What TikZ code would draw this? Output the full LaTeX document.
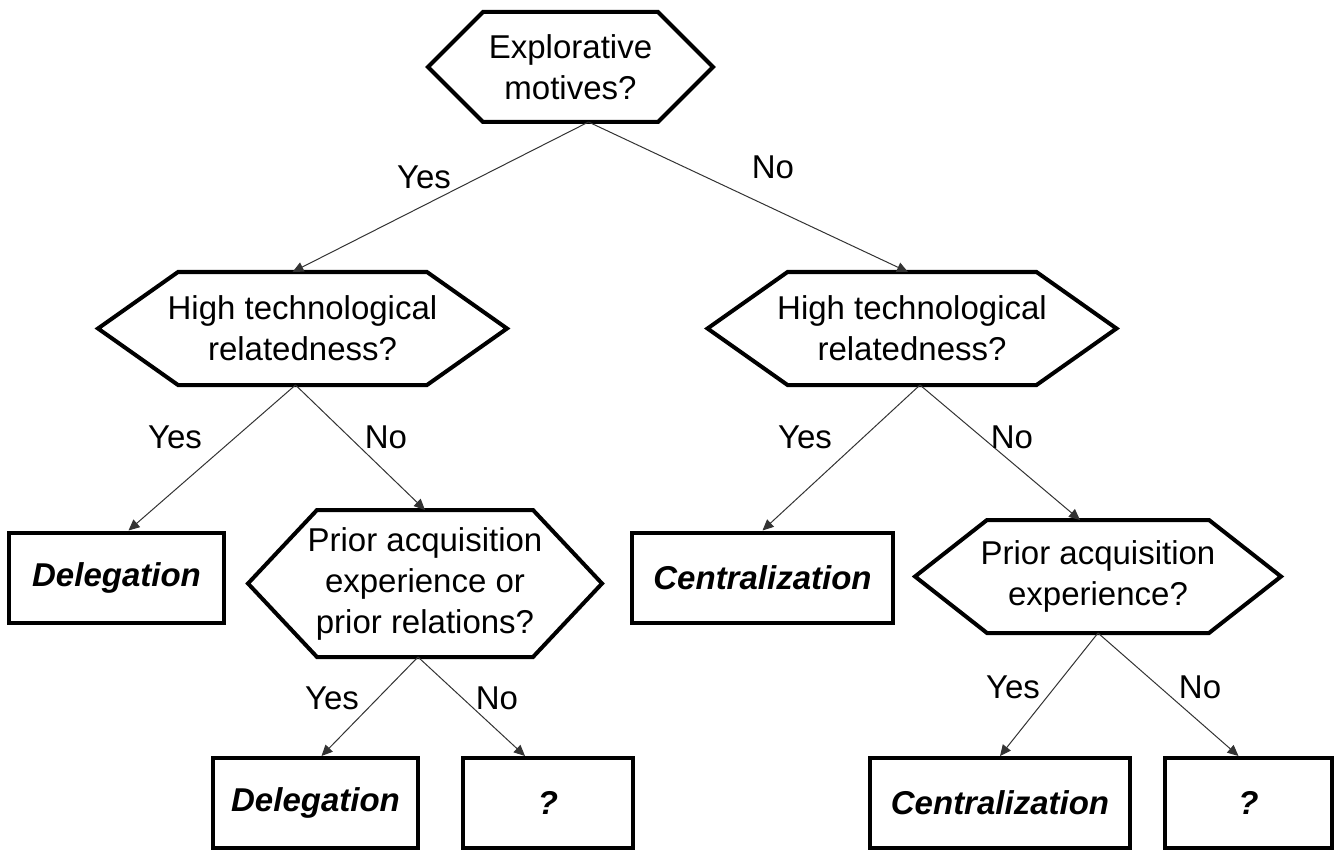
\documentclass[tikz,border=0pt]{standalone}
\usepackage{fontspec}
\setmainfont{Liberation Sans}
\usetikzlibrary{arrows.meta}

\tikzset{
  qnode/.style={inner sep=0pt, outer sep=0pt, align=center, font=\fontsize{33}{41}\selectfont},
  leaf/.style={draw, line width=4pt, inner sep=0pt, minimum height=90pt, align=center, font=\fontsize{33}{41}\selectfont\bfseries\itshape},
  hexline/.style={line width=4pt, line join=miter},
  conn/.style={line width=1pt, black!80, -{Triangle[length=11pt,width=10pt]}},
  lbl/.style={font=\fontsize{33}{41}\selectfont}
}

% outline of a question node: pointed at both sides
\newcommand{\hexframe}[2]{%
  \draw[hexline] (#1.west) -- ([xshift=#2]#1.north west) -- ([xshift=-#2]#1.north east)
    -- (#1.east) -- ([xshift=-#2]#1.south east) -- ([xshift=#2]#1.south west) -- cycle;}

\begin{document}
\begin{tikzpicture}[x=1pt,y=-1pt]
    \useasboundingbox (0,0) rectangle (1343,850);

    % questions
    \node[qnode, minimum width=285pt, minimum height=110pt] (T) at (570.5,67) {Explorative\\motives?};
    \node[qnode, minimum width=409pt, minimum height=113pt] (L2) at (302.5,328.5) {High technological\\relatedness?};
    \node[qnode, minimum width=409pt, minimum height=113pt] (R2) at (912,328.5) {High technological\\relatedness?};
    \node[qnode, minimum width=354pt, minimum height=147pt] (PL) at (425,583.5) {Prior acquisition\\experience or\\prior relations?};
    \node[qnode, minimum width=366pt, minimum height=113pt] (PR) at (1098,576.5) {Prior acquisition\\experience?};
    \hexframe{T}{55pt}
    \hexframe{L2}{80pt}
    \hexframe{R2}{80pt}
    \hexframe{PL}{69pt}
    \hexframe{PR}{72pt}

    % outcomes
    \node[leaf, minimum width=215pt] (D1) at (116.5,577.5) {Delegation};
    \node[leaf, minimum width=261pt] (C1) at (762.5,577.5) {Centralization};
    \node[leaf, minimum width=205pt] (D2) at (315.5,803) {Delegation};
    \node[leaf, minimum width=170pt] (Q1) at (548,803) {?};
    \node[leaf, minimum width=260pt] (C2) at (1000,803) {Centralization};
    \node[leaf, minimum width=167pt] (Q2) at (1248.5,803) {?};

    % branches
    \draw[conn] ([xshift=18pt]T.south) -- ([xshift=-10pt]L2.north);
    \draw[conn] ([xshift=18pt]T.south) -- ([xshift=-4pt]R2.north);
    \draw[conn] ([xshift=-7pt]L2.south) -- ([xshift=12pt]D1.north);
    \draw[conn] ([xshift=-7pt]L2.south) -- (PL.north);
    \draw[conn] ([xshift=8pt]R2.south) -- (C1.north);
    \draw[conn] ([xshift=8pt]R2.south) -- ([xshift=-18pt]PR.north);
    \draw[conn] ([xshift=-7pt]PL.south) -- ([xshift=6pt]D2.north);
    \draw[conn] ([xshift=-7pt]PL.south) -- ([xshift=-23pt]Q1.north);
    \draw[conn] (PR.south) -- (C2.north);
    \draw[conn] (PR.south) -- ([xshift=-10pt]Q2.north);

    % answers
    \node[lbl] (tyes) at (424,177) {Yes};
    \node[lbl] (tno) at (773,167) {No};
    \node[lbl] (lyes) at (175,437) {Yes};
    \node[lbl] (lno) at (386,437) {No};
    \node[lbl] (ryes) at (805,437) {Yes};
    \node[lbl] (rno) at (1012,437) {No};
    \node[lbl] (plyes) at (332,698) {Yes};
    \node[lbl] (plno) at (497,698) {No};
    \node[lbl] (pryes) at (1013,687) {Yes};
    \node[lbl] (prno) at (1200,687) {No};
\end{tikzpicture}
\end{document}
